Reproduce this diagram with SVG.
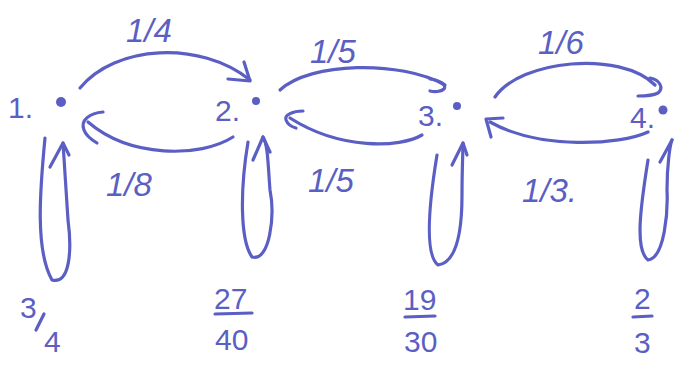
<svg xmlns="http://www.w3.org/2000/svg" width="675" height="367" viewBox="0 0 675 367">
<style>
.s{fill:none;stroke:#5b5fc4;stroke-width:3.2;stroke-linecap:round;stroke-linejoin:round}
.t{fill:#5b5fc4;font-family:"Liberation Sans",Arial,sans-serif;font-size:30px}
.e{fill:#5b5fc4;font-family:"Liberation Sans",Arial,sans-serif;font-size:33px;font-style:italic}
.d{fill:#5b5fc4}
</style>
<rect width="675" height="367" fill="#ffffff"/>
<g id="node1"><circle class="d" cx="61" cy="102" r="5"/><text class="t" x="8" y="118">1.</text></g>
<g id="node2"><circle class="d" cx="256" cy="101" r="4"/><text class="t" x="215" y="121">2.</text></g>
<g id="node3"><circle class="d" cx="457" cy="106" r="4"/><text class="t" x="418" y="126">3.</text></g>
<g id="node4"><circle class="d" cx="663" cy="110" r="4.5"/><text class="t" x="630" y="128">4.</text></g>
<g id="connectors">
<path class="s" d="M80,88 C115,45 200,40 250,80"/>
<path class="s" d="M228,79 L250,81 L244,62"/>
<path class="s" d="M233,137 C200,158 130,158 88,122"/>
<path class="s" d="M103,112 C90,113 80,120 84,130 C86,136 92,140 97,143"/>
<path class="s" d="M280,90 C310,62 400,60 445,85"/>
<path class="s" d="M430,79 C440,80 447,85 444,89 C441,92 434,92 430,91"/>
<path class="s" d="M422,135 C400,148 340,150 290,118"/>
<path class="s" d="M303,111 C293,111 284,115 286,120 C288,125 292,127 296,128"/>
<path class="s" d="M495,97 C520,60 620,50 655,85"/>
<path class="s" d="M650,78 C660,80 664,88 658,93 C652,96 644,96 638,96"/>
<path class="s" d="M648,132 C620,145 540,150 490,122"/>
<path class="s" d="M503,118 L486,119 L491,137"/>
<path class="s" d="M45,138 C40,190 35,250 52,280 C70,285 72,250 68,220 C66,190 64,160 63,143"/>
<path class="s" d="M50,167 L63,143 L69,155"/>
<path class="s" d="M248,142 C240,190 240,240 252,257 C270,262 275,215 270,190 C268,165 268,145 263,137"/>
<path class="s" d="M253,160 L263,137 L270,152"/>
<path class="s" d="M437,155 C428,210 425,255 438,265 C460,262 462,220 462,195 C462,170 463,150 463,143"/>
<path class="s" d="M452,165 L463,143 L467,155"/>
<path class="s" d="M648,160 C640,210 635,250 648,260 C665,258 668,210 667,190 C667,165 670,145 672,140"/>
<path class="s" d="M660,162 L672,140"/>
<text class="e" x="126" y="42">1/4</text>
<text class="e" x="106" y="196">1/8</text>
<text class="e" x="310" y="63">1/5</text>
<text class="e" x="308" y="192">1/5</text>
<text class="e" x="538" y="54">1/6</text>
<text class="e" x="522" y="202">1/3.</text>
<text class="t" x="20" y="318" font-size="34">3</text>
<path class="s" d="M36,330 L44,314"/>
<text class="t" x="44" y="352">4</text>
<text class="t" x="214" y="309">27</text>
<path class="s" d="M215,314 L252,313"/>
<text class="t" x="215" y="350">40</text>
<text class="t" x="403" y="310">19</text>
<path class="s" d="M405,317 L435,316"/>
<text class="t" x="404" y="352">30</text>
<text class="t" x="634" y="309">2</text>
<path class="s" d="M633,317 L652,316"/>
<text class="t" x="634" y="353">3</text>
</g>
</svg>
